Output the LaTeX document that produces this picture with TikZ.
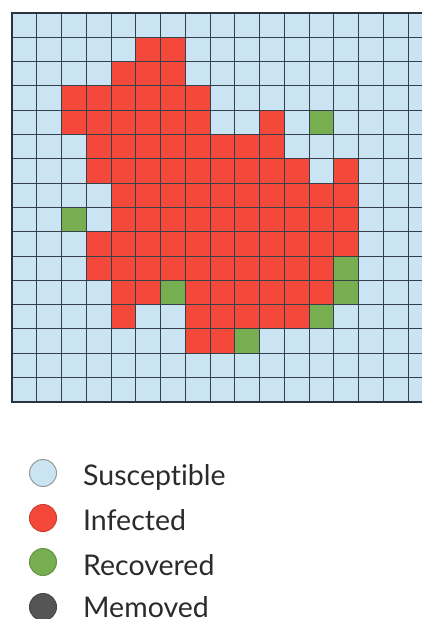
\documentclass[tikz,border=0pt]{standalone}
\usepackage{fontspec}
\setmainfont{Lato}[Ligatures={NoCommon}]
\definecolor{sus}{HTML}{CAE4F4}
\definecolor{inf}{HTML}{F4493A}
\definecolor{rec}{HTML}{76AE50}
\definecolor{rem}{HTML}{555555}
\definecolor{gridc}{HTML}{34414B}
\definecolor{txt}{HTML}{2B2B2B}
\tikzset{
  cellI/.style={fill=inf},
  cellR/.style={fill=rec},
  gridline/.style={draw=gridc,line width=0.9pt},
  border/.style={draw=gridc!80!black,line width=2pt},
  legdot/.style={circle,minimum size=27pt,inner sep=0pt,line width=1pt},
  legtxt/.style={anchor=base west,inner sep=0pt,text=txt,font=\fontsize{28.5}{32}\selectfont}
}
\begin{document}
\begin{tikzpicture}[x=1pt,y=-1pt]
\useasboundingbox (0,0) rectangle (422,619);
\def\cw{24.75}
\def\ch{24.3}
% background susceptible
\fill[sus] (12,13) rectangle (422,{13+16*\ch});
% infected cells
\foreach \r/\a/\b in {1/5/6, 2/4/6, 3/2/7, 4/2/7, 4/10/10, 5/3/10, 6/3/11, 6/13/13,
  7/4/13, 8/4/13, 9/3/13, 10/3/12, 11/4/5, 11/7/12, 12/4/4, 12/7/11, 13/7/8}
  \fill[cellI] ({12+\cw*\a},{13+\ch*\r}) rectangle ({12+\cw*(\b+1)},{13+\ch*(\r+1)});
% recovered cells
\foreach \c/\r in {12/4, 2/8, 13/10, 6/11, 13/11, 12/12, 9/13}
  \fill[cellR] ({12+\cw*\c},{13+\ch*\r}) rectangle ++(\cw,\ch);
% grid lines
\foreach \k in {1,...,16}
  \draw[gridline] ({12+\cw*\k},13) -- ({12+\cw*\k},{13+16*\ch});
\foreach \k in {1,...,15}
  \draw[gridline] (12,{13+\ch*\k}) -- (422,{13+\ch*\k});
% outer border (right side cut off)
\draw[border] (422,13) -- (12,13) -- (12,{13+16*\ch}) -- (422,{13+16*\ch});
% legend
\node[legdot,fill=sus,draw=gray!80] (ls) at (43,473) {};
\node[legdot,fill=inf,draw=inf!85!black] (li) at (43,518) {};
\node[legdot,fill=rec,draw=rec!85!black] (lr) at (43,562) {};
\node[legdot,fill=rem,draw=rem!85!black] (lm) at (43,607) {};
\node[legtxt] (ts) at (83,485) {Susceptible};
\node[legtxt] (ti) at (83,530) {Infected};
\node[legtxt] (tr) at (83,575) {Recovered};
\node[legtxt] (tm) at (83,617) {Memoved};
\end{tikzpicture}
\end{document}
